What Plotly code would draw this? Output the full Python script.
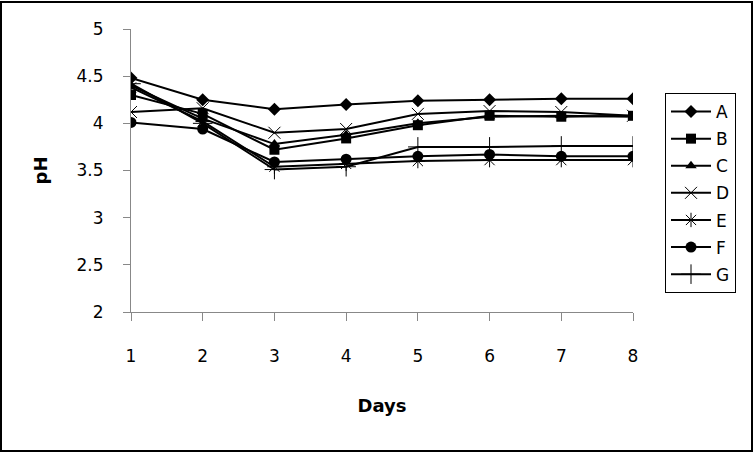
import plotly.graph_objects as go

days = [1, 2, 3, 4, 5, 6, 7, 8]
series_names = ["A", "B", "C", "D", "E", "F", "G"]
ph_A = [4.48, 4.25, 4.15, 4.20, 4.24, 4.25, 4.26, 4.26]
ph_B = [4.30, 4.10, 3.72, 3.84, 3.98, 4.08, 4.07, 4.08]
ph_C = [4.40, 4.05, 3.78, 3.88, 4.00, 4.07, 4.08, 4.07]
ph_D = [4.12, 4.16, 3.90, 3.94, 4.10, 4.13, 4.12, 4.08]
ph_E = [4.38, 4.02, 3.54, 3.57, 3.60, 3.61, 3.61, 3.61]
ph_F = [4.01, 3.94, 3.59, 3.62, 3.65, 3.67, 3.65, 3.65]
ph_G = [4.42, 4.00, 3.51, 3.54, 3.75, 3.75, 3.76, 3.76]
values = [ph_A, ph_B, ph_C, ph_D, ph_E, ph_F, ph_G]

symbols = ["diamond", "square", "triangle-up", "x-thin-open", "asterisk-open", "circle", "cross-thin-open"]
sizes = [10, 10, 10, 12, 12, 11, 14]

W, H = 754, 453
ml, mr, mt, mb = 131, 121, 29, 141

fig = go.Figure()
for name, vals, sym, sz in zip(series_names, values, symbols, sizes):
    thin = sym.endswith("open")
    fig.add_trace(go.Scatter(
        x=days, y=vals, name=name, mode="lines+markers", legendgroup=name,
        line=dict(color="black", width=2),
        marker=dict(symbol=sym, size=sz, color="black",
                    line=dict(color="black", width=1 if thin else 0)),
    ))

font = "DejaVu Sans, sans-serif"
fig.update_layout(
    width=W, height=H,
    margin=dict(l=ml, r=mr, t=mt, b=mb),
    paper_bgcolor="white", plot_bgcolor="white",
    font=dict(family=font, size=17, color="black"),
    showlegend=True,
    legend=dict(x=(665 - ml) / (W - ml - mr), y=(H - mb - 93) / (H - mt - mb),
                xanchor="left", yanchor="top",
                bordercolor="black", borderwidth=1, bgcolor="white",
                font=dict(size=17), itemwidth=40, tracegroupgap=2),
    xaxis=dict(range=[1, 8], tickvals=days, showgrid=False, zeroline=False,
               showline=True, linecolor="#888888", linewidth=1,
               ticks="outside", ticklen=8, tickcolor="#888888",
               ticklabelstandoff=21,
               title=dict(text="<b>Days</b>", font=dict(size=18), standoff=33)),
    yaxis=dict(range=[2, 5], tickvals=[2, 2.5, 3, 3.5, 4, 4.5, 5], ticktext=["2", "2.5", "3", "3.5", "4", "4.5", "5"],
               showgrid=False, zeroline=False,
               showline=True, linecolor="#888888", linewidth=1,
               ticks="outside", ticklen=7, tickcolor="#888888",
               ticklabelstandoff=16,
               title=dict(text="<b>pH</b>", font=dict(size=18), standoff=24)),
)

pw, ph = W - ml - mr, H - mt - mb
fig.add_shape(type="rect", xref="paper", yref="paper",
              x0=(1 - ml) / pw, x1=(W - 2 - ml) / pw,
              y0=-(mb - 2) / ph, y1=(H - 2 - mb) / ph,
              line=dict(color="black", width=2), layer="below")

fig.write_html("out.html")
